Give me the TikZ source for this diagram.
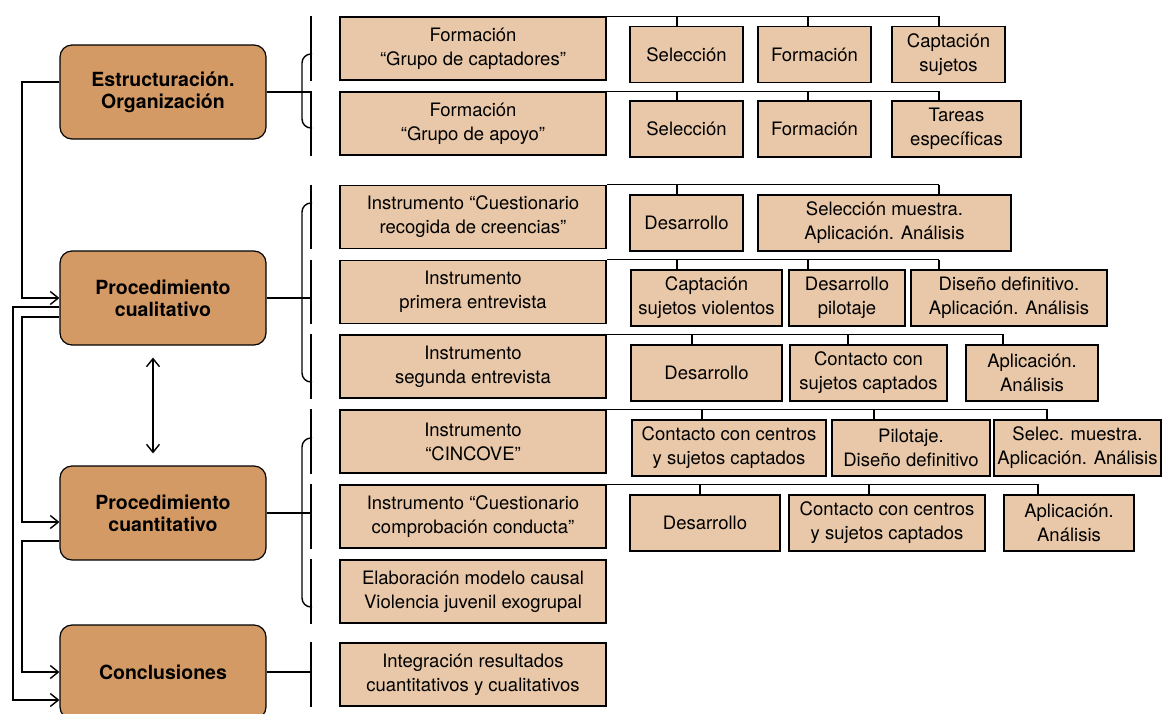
\documentclass[tikz,border=0pt]{standalone}
\usepackage{fontspec}
\setmainfont{TeX Gyre Heros}
\usepackage{xcolor}
\usetikzlibrary{arrows.meta}

\definecolor{mainfill}{RGB}{212,154,101}
\definecolor{subfill}{RGB}{232,200,168}

\begin{document}
\begin{tikzpicture}[x=1pt, y=-1pt,
  mainbox/.style={draw, line width=1.2pt, rounded corners=12pt, fill=mainfill,
    minimum width=206pt, minimum height=94pt, align=center, inner sep=2pt,
    font=\bfseries\fontsize{19.5}{22}\selectfont},
  rowbox/.style={draw, line width=1.8pt, fill=subfill, minimum width=266pt,
    minimum height=63pt, align=center, inner sep=2pt,
    font=\fontsize{18.5}{24}\selectfont},
  kidbox/.style={draw, line width=1.8pt, fill=subfill, minimum height=56pt,
    align=center, inner sep=2pt, font=\fontsize{18.5}{24}\selectfont},
  link/.style={line width=1.4pt},
  bus/.style={line width=1.2pt},
  flow/.style={line width=1.4pt, -{Straight Barb[length=8pt,width=13pt]}}]
  \useasboundingbox (0,0) rectangle (1165,713);

  % Main stages
  \node[mainbox] (estr) at (163,92) {Estructuración.\\Organización};
  \node[mainbox] (cual) at (163,298) {Procedimiento\\cualitativo};
  \node[mainbox] (cuant) at (163,513) {Procedimiento\\cuantitativo};
  \node[mainbox] (concl) at (163,672) {Conclusiones};

  % Tasks column
  \node[rowbox] (r1) at (473,48.5) {Formación\\“Grupo de captadores”};
  \node[rowbox] (r2) at (473,123.5) {Formación\\“Grupo de apoyo”};
  \node[rowbox] (r3) at (473,217) {Instrumento “Cuestionario\\recogida de creencias”};
  \node[rowbox] (r4) at (473,292) {Instrumento\\primera entrevista};
  \node[rowbox] (r5) at (473,366.5) {Instrumento\\segunda entrevista};
  \node[rowbox] (r6) at (473,441.5) {Instrumento\\“CINCOVE”};
  \node[rowbox] (r7) at (473,516.5) {Instrumento “Cuestionario\\comprobación conducta”};
  \node[rowbox] (r8) at (473,591.5) {Elaboración modelo causal\\Violencia juvenil exogrupal};
  \node[rowbox] (r9) at (473,674.5) {Integración resultados\\cuantitativos y cualitativos};

  % Row 1
  \node[kidbox, minimum width=113pt] (c11) at (686.5,54.5) {Selección};
  \node[kidbox, minimum width=113pt] (c12) at (814.5,54.5) {Formación};
  \node[kidbox, minimum width=113pt] (c13) at (948.5,54.5) {Captación\\sujetos};
  % Row 2
  \node[kidbox, minimum width=113pt] (c21) at (686.5,129) {Selección};
  \node[kidbox, minimum width=113pt] (c22) at (814.5,129) {Formación};
  \node[kidbox, minimum width=129pt] (c23) at (956.5,129) {Tareas\\específicas};
  % Row 3
  \node[kidbox, minimum width=113pt] (c31) at (686.5,223) {Desarrollo};
  \node[kidbox, minimum width=253pt] (c32) at (884.5,223) {Selección muestra.\\Aplicación. Análisis};
  % Row 4
  \node[kidbox, minimum width=151pt] (c41) at (706.5,298) {Captación\\sujetos violentos};
  \node[kidbox, minimum width=116pt] (c42) at (847,298) {Desarrollo\\pilotaje};
  \node[kidbox, minimum width=196pt] (c43) at (1009,298) {Diseño definitivo.\\Aplicación. Análisis};
  % Row 5
  \node[kidbox, minimum width=151pt] (c51) at (706.5,373) {Desarrollo};
  \node[kidbox, minimum width=157pt] (c52) at (868.5,373) {Contacto con\\sujetos captados};
  \node[kidbox, minimum width=132pt] (c53) at (1032,373) {Aplicación.\\Análisis};
  % Row 6
  \node[kidbox, minimum width=194pt] (c61) at (729,448) {Contacto con centros\\y sujetos captados};
  \node[kidbox, minimum width=158pt] (c62) at (911,448) {Pilotaje.\\Diseño definitivo};
  \node[kidbox, minimum width=167pt] (c63) at (1077.5,448) {Selec. muestra.\\Aplicación. Análisis};
  % Row 7
  \node[kidbox, minimum width=150pt] (c71) at (705,523) {Desarrollo};
  \node[kidbox, minimum width=196pt] (c72) at (887,523) {Contacto con centros\\y sujetos captados};
  \node[kidbox, minimum width=130pt] (c73) at (1069,523) {Aplicación.\\Análisis};

  % Buses over the steps
  \draw[bus] (r1.north east) -- ([xshift=-9.5pt]c13.north |- r1.north);
  \foreach \c/\o in {c11/-9.5, c12/-6.5, c13/-9.5}
    \draw[bus] ([xshift=\o pt]\c.north) -- ([xshift=\o pt]\c.north |- r1.north);
  \draw[bus] (r2.north east) -- ([xshift=-17.5pt]c23.north |- r2.north);
  \foreach \c/\o in {c21/-9.5, c22/-6.5, c23/-17.5}
    \draw[bus] ([xshift=\o pt]\c.north) -- ([xshift=\o pt]\c.north |- r2.north);
  \draw[bus] (r3.north east) -- ([xshift=54.5pt]c32.north |- r3.north);
  \foreach \c/\o in {c31/-9.5, c32/54.5}
    \draw[bus] ([xshift=\o pt]\c.north) -- ([xshift=\o pt]\c.north |- r3.north);
  \draw[bus] (r4.north east) -- ([xshift=-70pt]c43.north |- r4.north);
  \foreach \c/\o in {c41/-29.5, c42/-39, c43/-70}
    \draw[bus] ([xshift=\o pt]\c.north) -- ([xshift=\o pt]\c.north |- r4.north);
  \draw[bus] (r5.north east) -- ([xshift=-29pt]c53.north |- r5.north);
  \foreach \c/\o in {c51/-14.5, c52/-20.5, c53/-29}
    \draw[bus] ([xshift=\o pt]\c.north) -- ([xshift=\o pt]\c.north |- r5.north);
  \draw[bus] (r6.north east) -- ([xshift=-30.5pt]c63.north |- r6.north);
  \foreach \c/\o in {c61/-27, c62/-37, c63/-30.5}
    \draw[bus] ([xshift=\o pt]\c.north) -- ([xshift=\o pt]\c.north |- r6.north);
  \draw[bus] (r7.north east) -- ([xshift=-31pt]c73.north |- r7.north);
  \foreach \c/\o in {c71/-5, c72/-18, c73/-31}
    \draw[bus] ([xshift=\o pt]\c.north) -- ([xshift=\o pt]\c.north |- r7.north);

  % Split lines and braces
  \coordinate (bx) at (312,0);
  \foreach \r in {r1,r2,r3,r4,r5,r6,r7,r8,r9}
    \draw[link] ([xshift=-28pt]\r.north west) -- ([xshift=-28pt]\r.south west);
  \draw[link, rounded corners=9pt] (312,54) -- (302,54) -- (302,128) -- (312,128);
  \draw[link, rounded corners=9pt] (312,203) -- (302,203) -- (302,382) -- (312,382);
  \draw[link, rounded corners=9pt] (312,438) -- (302,438) -- (302,607) -- (312,607);
  \draw[link] (estr.east) -- (estr.east -| bx);
  \draw[link] (cual.east) -- (cual.east -| bx);
  \draw[link] (cuant.east) -- (cuant.east -| bx);
  \draw[link] (concl.east) -- (concl.east -| bx);

  % Left feedback lines
  \coordinate (railA) at (22,0);
  \coordinate (railB) at (13,0);
  \coordinate (inC) at ([yshift=-9pt]cuant.west);
  \coordinate (inD) at ([yshift=-28pt]concl.west);
  \draw[flow] ([yshift=10pt]estr.west) -| (railA |- cual.west) -- (cual.west);
  \draw[flow] ([yshift=-19pt]cual.west) -| (railA |- inC) -- (inC);
  \draw[flow] ([yshift=-9pt]cual.west) -| (railB |- inD) -- (inD);
  \draw[flow] ([yshift=-28pt]cuant.west) -| (railA |- concl.west) -- (concl.west);
  \draw[line width=1.4pt, {Straight Barb[length=8pt,width=13pt]}-{Straight Barb[length=8pt,width=13pt]}]
    ([xshift=-10pt,yshift=-12pt]cual.south) -- ([xshift=-10pt,yshift=12pt]cuant.north);
\end{tikzpicture}
\end{document}
